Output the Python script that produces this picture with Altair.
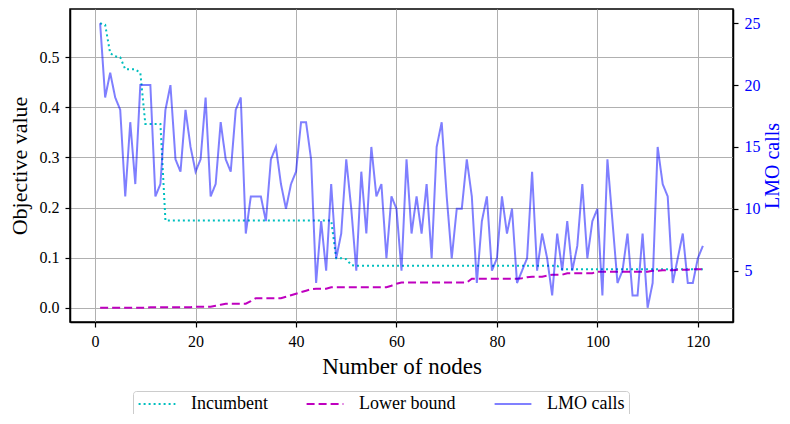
import altair as alt
import pandas as pd

nodes = list(range(1, 122))

incumbent = (
    [0.568, 0.565, 0.508, 0.502, 0.500, 0.476, 0.476, 0.476, 0.469]
    + [0.367] * 4
    + [0.174] * 34
    + [0.099, 0.099, 0.097, 0.085]
    + [0.0836] * 41
    + [0.077] * 29
)

lower_bound = (
    [0.0] * 10
    + [0.001] * 9
    + [0.002] * 4
    + [0.004, 0.006]
    + [0.008] * 5
    + [0.013]
    + [0.019] * 6
    + [0.022, 0.025, 0.028, 0.031, 0.034, 0.037]
    + [0.038] * 3
    + [0.041] * 12
    + [0.044, 0.048]
    + [0.0505] * 14
    + [0.058] * 10
    + [0.059, 0.061, 0.062, 0.062, 0.062, 0.064, 0.066, 0.066, 0.066]
    + [0.069] * 6
    + [0.072] * 11
    + [0.074, 0.074, 0.075, 0.075, 0.075, 0.076, 0.076, 0.076, 0.077, 0.077, 0.077]
)

lmo_calls = [
    25, 19, 21, 19, 18, 11, 17, 12, 20, 20,
    20, 11, 12, 18, 20, 14, 13, 18, 15, 13,
    14, 19, 11, 12, 17, 14, 13, 18, 19, 8,
    11, 11, 11, 9, 14, 15, 12, 10, 12, 13,
    17, 17, 14, 4, 9, 5, 12, 6, 8, 14,
    10, 5, 13, 8, 15, 11, 12, 6, 11, 10,
    5, 14, 8, 11, 8, 12, 6, 15, 17, 11,
    6, 10, 10, 14, 11, 4, 9, 11, 5, 6,
    11, 8, 10, 4, 5, 6, 13, 5, 8, 6,
    3, 8, 5, 9, 5, 7, 12, 6, 9, 10,
    3, 14, 9, 4, 5, 8, 3, 3, 8, 2,
    4, 15, 12, 11, 4, 6, 8, 4, 4, 6,
    7,
]

series_names = ["Incumbent", "Lower bound", "LMO calls"]
series_colors = ["#00bfbf", "#bf00bf", "rgba(0,0,255,0.5)"]
series_dashes = [[2, 3], [8, 4], [1, 0]]

x_ticks = [0, 20, 40, 60, 80, 100, 120]
y_left_ticks = [0.0, 0.1, 0.2, 0.3, 0.4, 0.5]
y_right_ticks = [5, 10, 15, 20, 25]

obj_df = pd.DataFrame(
    {
        "node": nodes + nodes,
        "value": incumbent + lower_bound,
        "series": ["Incumbent"] * len(nodes) + ["Lower bound"] * len(nodes),
    }
)
lmo_df = pd.DataFrame({"node": nodes, "calls": lmo_calls, "series": ["LMO calls"] * len(nodes)})

FONT = "Liberation Serif"

legend = alt.Legend(
    title=None,
    orient="none",
    legendX=63,
    legendY=382,
    direction="horizontal",
    symbolType="M-2.3,0L2.3,0",
    symbolSize=256,
    symbolOffset=11,
    symbolStrokeWidth=2,
    labelFont=FONT,
    labelFontSize=18,
    labelColor="black",
    labelOffset=25,
    columnPadding=34,
    padding=4,
    strokeColor="#cccccc",
    fillColor="white",
    cornerRadius=3,
)

x_enc = alt.X(
    "node:Q",
    scale=alt.Scale(domain=[-5, 127], nice=False, zero=False),
    axis=alt.Axis(values=x_ticks, title="Number of nodes", grid=True, format="d"),
)
color_enc = alt.Color(
    "series:N",
    scale=alt.Scale(domain=series_names, range=series_colors),
    legend=legend,
)
dash_enc = alt.StrokeDash(
    "series:N",
    scale=alt.Scale(domain=series_names, range=series_dashes),
    legend=legend,
)

obj = (
    alt.Chart(obj_df)
    .mark_line(strokeWidth=2)
    .encode(
        x=x_enc,
        y=alt.Y(
            "value:Q",
            scale=alt.Scale(domain=[-0.0285, 0.5965], nice=False, zero=False),
            axis=alt.Axis(
                title="Objective value",
                values=y_left_ticks,
                format=".1f",
                grid=True,
                orient="left",
                titlePadding=8,
                titleFontSize=22,
            ),
        ),
        color=color_enc,
        strokeDash=dash_enc,
    )
)

lmo = (
    alt.Chart(lmo_df)
    .mark_line(strokeWidth=2)
    .encode(
        x=x_enc,
        y=alt.Y(
            "calls:Q",
            scale=alt.Scale(domain=[0.85, 26.15], nice=False, zero=False),
            axis=alt.Axis(
                title="LMO calls",
                values=y_right_ticks,
                grid=False,
                orient="right",
                labelColor="#0000ff",
                titleColor="#0000ff",
                titleAngle=270,
                titlePadding=22,
                titleFontSize=20,
            ),
        ),
        color=color_enc,
        strokeDash=dash_enc,
    )
)

chart = (
    alt.layer(obj, lmo)
    .resolve_scale(y="independent")
    .properties(
        width=663,
        height=313,
        autosize=alt.AutoSizeParams(type="none"),
        padding={"left": 62, "top": 1, "right": 49, "bottom": 92},
    )
    .configure(font=FONT)
    .configure_view(stroke="black", strokeWidth=1.5)
    .configure_axis(
        labelFont=FONT,
        titleFont=FONT,
        labelFontSize=16,
        titleFontSize=23,
        titleFontWeight="normal",
        labelColor="black",
        titleColor="black",
        domainColor="black",
        domainWidth=1.5,
        tickColor="black",
        tickWidth=1.2,
        tickSize=5,
        labelPadding=6,
        titlePadding=6,
        gridColor="#b0b0b0",
        gridWidth=1,
        gridOpacity=1,
    )
    .configure_legend(labelFont=FONT, labelFontSize=18)
)

chart.save("out.html", embed_options={"renderer": "svg", "actions": False})
